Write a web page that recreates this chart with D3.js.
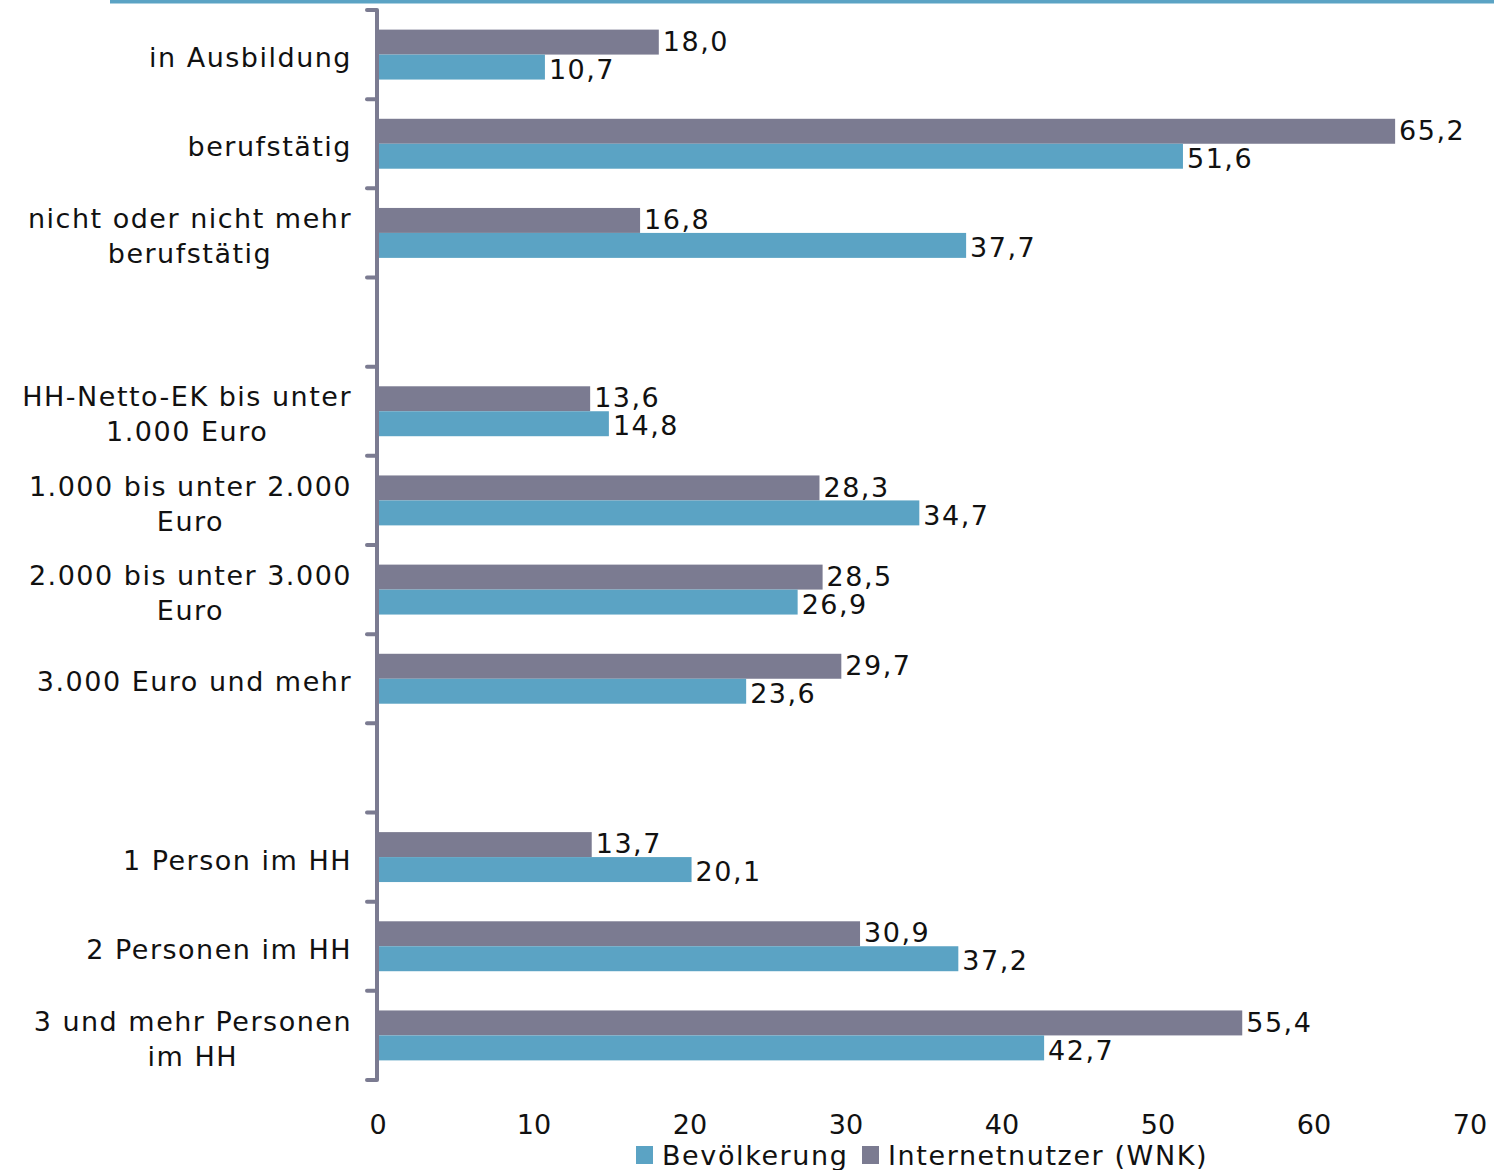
<!DOCTYPE html>
<html><head><meta charset="utf-8">
<script src="https://cdn.jsdelivr.net/npm/d3@7"></script>
<style>body{margin:0;background:#fff}svg{display:block}</style>
</head><body>
<svg id="c" width="1494" height="1170"></svg>
<script>
const categories = [
  ["in Ausbildung"],
  ["berufstätig"],
  ["nicht oder nicht mehr", "berufstätig"],
  null,
  ["HH-Netto-EK bis unter", "1.000 Euro"],
  ["1.000 bis unter 2.000", "Euro"],
  ["2.000 bis unter 3.000", "Euro"],
  ["3.000 Euro und mehr"],
  null,
  ["1 Person im HH"],
  ["2 Personen im HH"],
  ["3 und mehr Personen", "im HH"]
];
const bevoelkerung   = [10.7, 51.6, 37.7, null, 14.8, 34.7, 26.9, 23.6, null, 20.1, 37.2, 42.7];
const internetnutzer = [18.0, 65.2, 16.8, null, 13.6, 28.3, 28.5, 29.7, null, 13.7, 30.9, 55.4];
const xTicks = [0, 10, 20, 30, 40, 50, 60, 70];
const seriesNames = ["Bevölkerung", "Internetnutzer (WNK)"];
const colors = {blue: "#5ba3c4", gray: "#7b7b91"};

const svg = d3.select("#c");
const FONT = "DejaVu Sans, Verdana, sans-serif";
const x = d3.scaleLinear().domain([0, 70]).range([378, 1470]);
const y = d3.scaleBand().domain(d3.range(categories.length)).range([10, 1080])
  .paddingInner(0.44).paddingOuter(0.22);
const step = y.step();
const sub = d3.scaleBand().domain(["i", "b"]).range([0, y.bandwidth()]);

// top decorative line
svg.append("rect").attr("x", 110).attr("y", 0).attr("width", 1384).attr("height", 3.5).attr("fill", colors.blue);

// bars
const rows = d3.range(categories.length).filter(i => categories[i]);
const g = svg.append("g");
function drawSeries(vals, key, color, shift) {
  g.selectAll(null).data(rows).join("rect")
    .attr("x", x(0)).attr("y", i => y(i) + sub(key))
    .attr("width", i => x(vals[i]) - x(0)).attr("height", sub.bandwidth())
    .attr("fill", color);
  g.selectAll(null).data(rows).join("text")
    .attr("x", i => x(vals[i]) + 4).attr("y", i => y(i) + sub(key) + sub.bandwidth() / 2 + shift)
    .attr("dy", "0.36em")
    .attr("font-family", FONT).attr("font-size", 27).attr("letter-spacing", 1.5).attr("fill", "#111")
    .text(i => d3.format(".1f")(vals[i]).replace(".", ","));
}
drawSeries(internetnutzer, "i", colors.gray, -1);
drawSeries(bevoelkerung, "b", colors.blue, 2);

// y axis line and ticks
const boundaries = d3.range(categories.length + 1).map(i => y.range()[0] + i * step);
svg.append("line").attr("x1", 377).attr("x2", 377).attr("y1", boundaries[0]).attr("y2", boundaries[boundaries.length - 1])
  .attr("stroke", colors.gray).attr("stroke-width", 4);
svg.selectAll(null).data(boundaries).join("line")
  .attr("x1", 367).attr("x2", 377).attr("y1", d => d).attr("y2", d => d)
  .attr("stroke", colors.gray).attr("stroke-width", 4).attr("stroke-linecap", "round");

// category labels
const RIGHT = 352, LH = 35;
rows.forEach(i => {
  const lines = categories[i];
  const cy = y(i) + y.bandwidth() / 2 + 3;
  const t = svg.append("g");
  const texts = lines.map((l, k) => t.append("text")
    .attr("font-family", FONT).attr("font-size", 27).attr("letter-spacing", 1.5).attr("fill", "#111")
    .attr("text-anchor", "middle")
    .attr("y", cy + (k - (lines.length - 1) / 2) * LH).attr("dy", "0.36em").text(l));
  const w = d3.max(texts, tx => tx.node().getComputedTextLength());
  texts.forEach(tx => tx.attr("x", RIGHT - w / 2));
});

// x tick labels
svg.selectAll(null).data(xTicks).join("text")
  .attr("x", d => x(d)).attr("y", 1134).attr("text-anchor", "middle")
  .attr("font-family", FONT).attr("font-size", 27).attr("fill", "#111")
  .text(d => d);

// legend
const legend = [
  {name: seriesNames[0], color: colors.blue, x: 636},
  {name: seriesNames[1], color: colors.gray, x: 862}
];
legend.forEach(l => {
  svg.append("rect").attr("x", l.x).attr("y", 1146).attr("width", 17).attr("height", 18).attr("fill", l.color);
  svg.append("text").attr("x", l.x + 26).attr("y", 1165)
    .attr("font-family", FONT).attr("font-size", 27).attr("letter-spacing", 1.6).attr("fill", "#111").text(l.name);
});
</script>
</body></html>
